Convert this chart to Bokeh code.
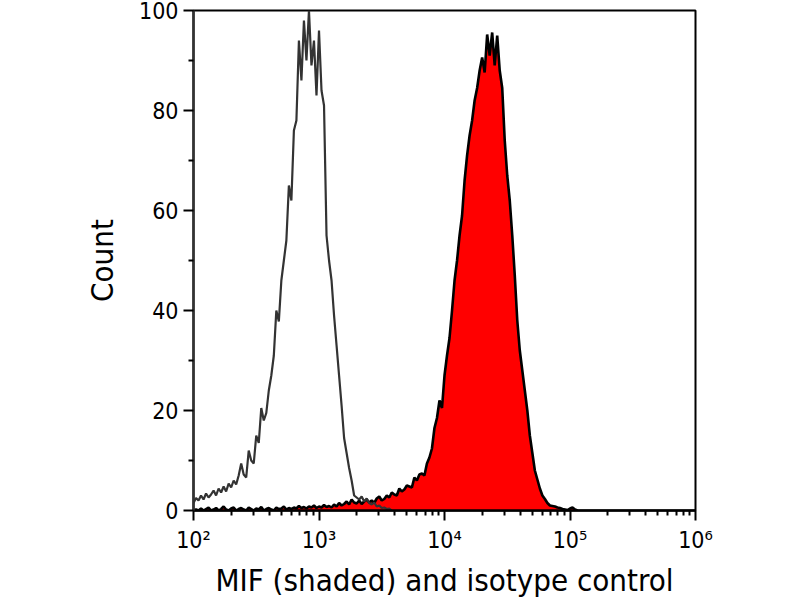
import numpy as np
from bokeh.plotting import figure
from bokeh.models import FixedTicker
from bokeh.embed import file_html
from bokeh.resources import INLINE

# histogram channels: log10 of the first channel and channel width
bin_start = 2.0
bin_step = 0.02

# isotype control (outline only), channels from 10^2.00 upwards
iso_counts = [
    1.5, 2.5, 2.0, 3.0, 2.2, 3.4, 2.6, 3.2, 4.0, 3.0,
    4.4, 3.6, 4.8, 3.8, 5.4, 4.6, 6.0, 5.2, 7.0, 9.4,
    7.2, 6.6, 12.0, 10.0, 9.4, 15.0, 13.5, 20.5, 18.0, 19.5,
    24.0, 27.0, 31.0, 40.0, 37.8, 46.0, 50.0, 54.0, 65.0, 62.0,
    76.0, 78.0, 94.0, 86.0, 98.0, 90.0, 100.0, 89.0, 94.0, 83.0,
    96.0, 84.0, 81.0, 55.0, 50.0, 46.0, 39.0, 33.0, 27.0, 21.0,
    14.5, 11.5, 8.5, 6.0, 3.0, 2.6, 2.2, 2.8, 1.8, 2.4,
    1.5, 1.2, 1.6, 0.8, 1.0, 0.5, 0.6, 0.3, 0.4, 0.0,
]

# MIF (shaded), channels from 10^2.00 upwards
mif_counts = [
    0, 0.2, 0, 0.4, 0, 0.3, 0.6, 0, 0.2, 0.5,
    0, 0.3, 0.8, 0.2, 0, 0.4, 0.6, 0, 0.3, 0.5,
    0.2, 0, 0.6, 0.3, 0, 0.4, 0.2, 0.7, 0, 0.3,
    0.5, 0.2, 0, 0.6, 0.3, 0.4, 0.8, 0.2, 0.5, 0.3,
    0.6, 0.4, 0.9, 0.5, 0.7, 0.4, 0.8, 0.6, 1.0, 0.5,
    0.8, 0.6, 1.1, 0.7, 0.9, 0.6, 1.2, 0.8, 1.5, 1.0,
    1.3, 1.8, 1.2, 2.2, 1.6, 1.4, 2.0, 1.3, 1.8, 2.2,
    1.6, 2.0, 1.5, 2.4, 2.8, 2.0, 2.3, 3.0, 2.6, 3.6,
    3.2, 3.0, 4.4, 3.8, 4.2, 5.0, 4.8, 4.6, 6.6, 6.0,
    7.2, 7.4, 7.0, 9.4, 10.6, 12.4, 16.5, 18.5, 22.0, 20.5,
    27.0, 31.0, 34.5, 40.0, 46.0, 50.0, 55.0, 59.0, 66.0, 71.0,
    75.0, 78.0, 82.0, 84.5, 88.0, 90.6, 87.6, 95.2, 91.0, 95.6,
    89.0, 95.0, 88.0, 84.5, 74.0, 67.0, 62.0, 55.0, 47.0, 38.0,
    32.0, 28.0, 24.0, 20.0, 15.0, 11.5, 8.0, 6.2, 4.4, 3.0,
    2.3, 1.5, 1.0, 0.9, 0.8, 0.6, 0.5, 0.3, 0.2, 0.1,
    0.4, 0.6, 0.2, 0.0,
]

x_ticks = [1e2, 1e3, 1e4, 1e5, 1e6]
x_tick_labels = ["10²", "10³", "10⁴", "10⁵", "10⁶"]
y_ticks = [0, 20, 40, 60, 80, 100]
y_minor_ticks = [10, 30, 50, 70, 90]

iso_x = 10 ** (bin_start + bin_step * np.arange(len(iso_counts)))
mif_x = 10 ** (bin_start + bin_step * np.arange(len(mif_counts)))

FONT = "DejaVu Sans Condensed"

p = figure(x_axis_type="log", x_range=(1e2, 1e6), y_range=(0, 100),
           frame_width=502, frame_height=500,
           min_border_left=193, min_border_right=95,
           min_border_top=10, min_border_bottom=76,
           output_backend="svg", toolbar_location=None)
p.xgrid.visible = False
p.ygrid.visible = False
p.outline_line_color = "black"
p.outline_line_width = 2
p.background_fill_color = "white"
p.border_fill_color = "white"

p.varea(x=mif_x, y1=0, y2=mif_counts, fill_color="#ff0000")
p.line(mif_x, mif_counts, line_color="black", line_width=2.6)
p.line(iso_x, iso_counts, line_color="#333333", line_width=2.2)

# x axis: decades with minor ticks at 2..9
minor_x = [k * 10 ** e for e in range(2, 6) for k in range(2, 10)]
p.xaxis.ticker = FixedTicker(ticks=x_ticks, minor_ticks=minor_x)
p.xaxis.major_label_overrides = {t: s for t, s in zip(x_ticks, x_tick_labels)}
p.yaxis.ticker = FixedTicker(ticks=y_ticks, minor_ticks=y_minor_ticks)

p.xaxis.axis_label = "MIF (shaded) and isotype control"
p.yaxis.axis_label = "Count"

for ax, col in ((p.xaxis, "black"), (p.yaxis, "#333333")):
    ax.axis_line_color = col
    ax.axis_line_width = 2.5
    ax.major_tick_line_color = "black"
    ax.minor_tick_line_color = "black"
    ax.major_tick_line_width = 2
    ax.minor_tick_line_width = 2
    ax.major_tick_in = 0
    ax.major_tick_out = 10
    ax.minor_tick_in = 0
    ax.minor_tick_out = 5
    ax.major_label_text_font = FONT
    ax.major_label_text_font_size = "23px"
    ax.major_label_text_color = "black"
    ax.axis_label_text_font = FONT
    ax.axis_label_text_font_size = "31px"
    ax.axis_label_text_font_style = "normal"
    ax.axis_label_text_color = "black"

p.xaxis.major_label_standoff = 6
p.xaxis.axis_label_standoff = 6
p.yaxis.major_label_standoff = 5
p.yaxis.axis_label_standoff = 16

open("out.html", "w").write(file_html(p, INLINE))
